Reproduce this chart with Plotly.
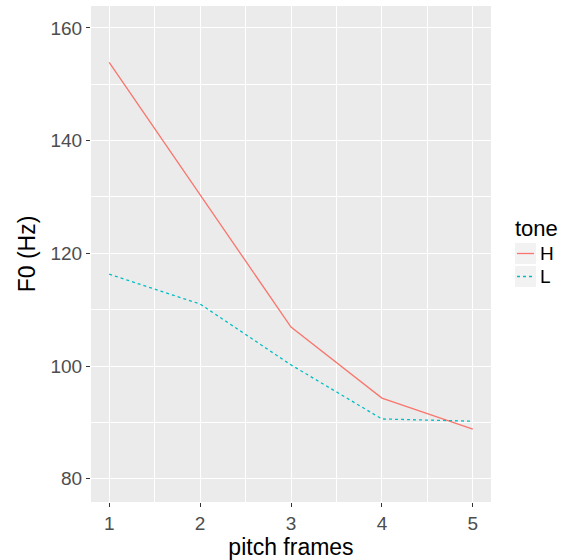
import plotly.graph_objects as go

frames = [1, 2, 3, 4, 5]
tone_H = [153.9, 130.4, 106.9, 94.3, 88.8]
tone_L = [116.3, 111.0, 100.2, 90.6, 90.2]
x_ticks = [1, 2, 3, 4, 5]
y_ticks = [80, 100, 120, 140, 160]

W, H = 563, 560
L, R, T, B = 91, 72, 6, 58
pw, ph = W - L - R, H - T - B

def px(x):
    return (x - L) / pw

def py(y):
    return (H - B - y) / ph

fig = go.Figure()
fig.add_trace(go.Scatter(x=frames, y=tone_H, mode="lines", name="H",
                         line=dict(color="#F8766D", width=1.3), showlegend=False))
fig.add_trace(go.Scatter(x=frames, y=tone_L, mode="lines", name="L",
                         line=dict(color="#00BFC4", width=1.3, dash="3px,3px"), showlegend=False))

font = "Liberation Sans, Arial, sans-serif"
axis_common = dict(
    showgrid=True, gridcolor="white", gridwidth=1.3,
    ticks="outside", ticklen=4, tickcolor="#333333", tickwidth=1.1,
    tickfont=dict(family=font, size=19, color="#4D4D4D"),
    zeroline=False, showline=False,
)
fig.update_xaxes(range=[0.8, 5.2], tickvals=x_ticks, ticktext=[str(v) for v in x_ticks],
                 title=dict(text="pitch frames", font=dict(family=font, size=23, color="black"), standoff=4),
                 **axis_common)
fig.update_xaxes(minor=dict(tickvals=[1.5, 2.5, 3.5, 4.5], showgrid=True, gridcolor="white", gridwidth=0.6, ticks=""))
fig.update_yaxes(range=[75.86, 163.9], tickvals=y_ticks, ticktext=[str(v) for v in y_ticks],
                 title=dict(text="F0 (Hz)", font=dict(family=font, size=23, color="black"), standoff=8),
                 **axis_common)
fig.update_yaxes(minor=dict(tickvals=[90, 110, 130, 150], showgrid=True, gridcolor="white", gridwidth=0.6, ticks=""))

shapes = []
annotations = []
# custom legend
annotations.append(dict(xref="paper", yref="paper", x=px(513), y=py(228), text="tone",
                        showarrow=False, xanchor="left", yanchor="middle",
                        font=dict(family=font, size=22, color="black")))
entries = [("H", "#F8766D", "solid", 243, 264), ("L", "#00BFC4", "3px,3px", 266, 287)]
for name, col, dash, y0, y1 in entries:
    shapes.append(dict(type="rect", xref="paper", yref="paper",
                       x0=px(515), x1=px(536), y0=py(y1), y1=py(y0),
                       fillcolor="#F2F2F2", line=dict(width=0), layer="below"))
    yc = (y0 + y1) / 2
    shapes.append(dict(type="line", xref="paper", yref="paper",
                       x0=px(517), x1=px(534), y0=py(yc), y1=py(yc),
                       line=dict(color=col, width=1.3, dash=dash)))
    annotations.append(dict(xref="paper", yref="paper", x=px(538), y=py(yc), text=name,
                            showarrow=False, xanchor="left", yanchor="middle",
                            font=dict(family=font, size=19, color="black")))

fig.update_layout(
    width=W, height=H,
    margin=dict(l=L, r=R, t=T, b=B, pad=0),
    paper_bgcolor="white", plot_bgcolor="#EBEBEB",
    shapes=shapes, annotations=annotations,
    showlegend=False,
)
fig.write_html("out.html", config={"displayModeBar": False},
               post_script="document.body.style.margin='0';document.body.style.overflow='hidden';")
